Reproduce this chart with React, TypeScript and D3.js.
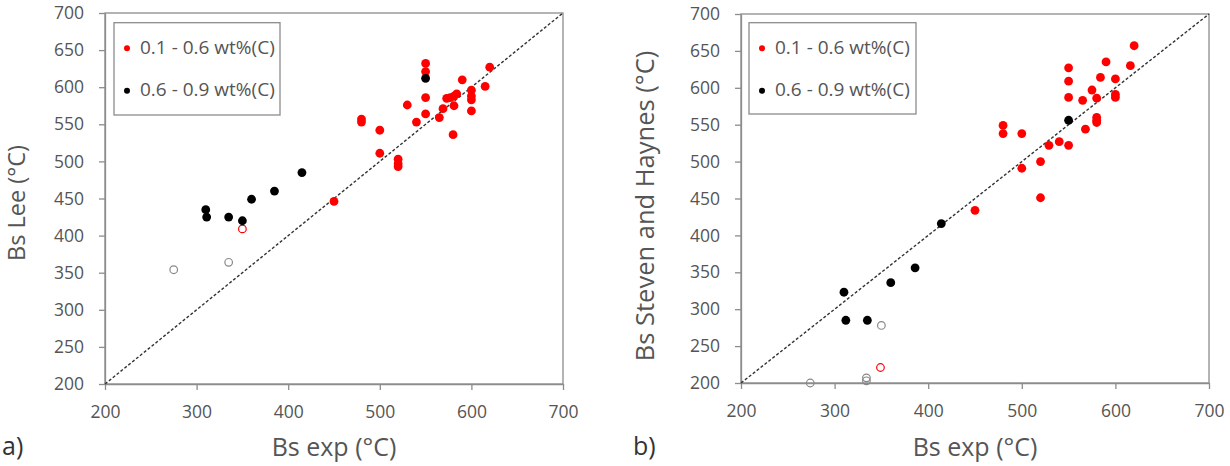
import React, { useEffect, useRef } from 'react'
import * as d3 from 'd3'

type Pt = [number, number]

// shared axis ticks (°C)
const xTickValues = [200, 300, 400, 500, 600, 700]
const yTickValues = [200, 250, 300, 350, 400, 450, 500, 550, 600, 650, 700]
const legendLabels = ['0.1 - 0.6 wt%(C)', '0.6 - 0.9 wt%(C)']

// a) Lee model vs experiment
const leeLowC: Pt[] = [
  [550, 632], [550, 621], [550, 586], [550, 564], [620, 627], [590, 610], [615, 601],
  [600, 596], [600, 588], [600, 583], [600, 568], [573, 585], [577, 586], [581, 588],
  [584, 591], [581, 575], [569, 571], [565, 559], [580, 536], [540, 553], [530, 576],
  [480, 557], [480, 553], [500, 542], [500, 511], [520, 503], [520, 497], [520, 493],
  [450, 446],
]
const leeHighC: Pt[] = [
  [550, 612], [310, 435], [311, 425], [335, 425], [350, 420], [360, 449], [385, 460], [415, 485],
]
const leeOpenLow: Pt[] = [[350, 409]]
const leeOpenHigh: Pt[] = [[275, 354], [335, 364]]

// b) Steven and Haynes model vs experiment
const shLowC: Pt[] = [
  [620, 657], [590, 635], [616, 630], [550, 627], [550, 609], [550, 587], [584, 614],
  [600, 612], [575, 597], [600, 591], [600, 587], [565, 583], [580, 586], [580, 560],
  [580, 556], [580, 553], [568, 544], [550, 522], [540, 527], [529, 522], [480, 549],
  [480, 538], [500, 538], [500, 491], [520, 500], [520, 451], [450, 434],
]
const shHighC: Pt[] = [
  [550, 556], [414, 416], [386, 356], [360, 336], [310, 323], [312, 285], [335, 285],
]
const shOpenLow: Pt[] = [[349, 221]]
const shOpenHigh: Pt[] = [[350, 278], [274, 200], [334, 207], [334, 203]]

const FONT = "'Open Sans', sans-serif"
const TEXT = '#555'
const AXIS = '#8c8c8c'
const RED = '#ff0000'

interface Panel {
  tag: string
  yTitle: string
  low: Pt[]
  high: Pt[]
  openLow: Pt[]
  openHigh: Pt[]
  box: { left: number; top: number; right: number; bottom: number }
  yTitleX: number
  yTitleY: number
  yTitleSize: number
  tagX: number
  legend: { x: number; y: number; w: number; h: number }
}

const panels: Panel[] = [
  {
    tag: 'a)', yTitle: 'Bs Lee (°C)',
    low: leeLowC, high: leeHighC, openLow: leeOpenLow, openHigh: leeOpenHigh,
    box: { left: 105, top: 13, right: 563, bottom: 384 },
    yTitleX: 25, yTitleY: 203, yTitleSize: 23.5, tagX: 2,
    legend: { x: 114, y: 22.7, w: 166, h: 92.3 },
  },
  {
    tag: 'b)', yTitle: 'Bs Steven and Haynes (°C)',
    low: shLowC, high: shHighC, openLow: shOpenLow, openHigh: shOpenHigh,
    box: { left: 741, top: 14, right: 1209, bottom: 383 },
    yTitleX: 654, yTitleY: 206, yTitleSize: 25.5, tagX: 633,
    legend: { x: 749, y: 22.7, w: 167, h: 91.3 },
  },
]

function drawPanel(svg: d3.Selection<SVGSVGElement, unknown, null, undefined>, p: Panel) {
  const { left, top, right, bottom } = p.box
  const x = d3.scaleLinear().domain([200, 700]).range([left, right])
  const y = d3.scaleLinear().domain([200, 700]).range([bottom, top])
  const g = svg.append('g')

  // plot area frame
  g.append('rect')
    .attr('x', left).attr('y', top)
    .attr('width', right - left).attr('height', bottom - top)
    .attr('fill', 'none').attr('stroke', AXIS).attr('stroke-width', 1.3)

  const yAxis = g.append('g')
    .attr('transform', `translate(${left},0)`)
    .call(d3.axisLeft(y).tickValues(yTickValues).tickSize(6).tickSizeOuter(0).tickPadding(15))
  const xAxis = g.append('g')
    .attr('transform', `translate(0,${bottom})`)
    .call(d3.axisBottom(x).tickValues(xTickValues).tickSize(6).tickSizeOuter(0).tickPadding(15.5))

  for (const ax of [xAxis, yAxis]) {
    ax.select('.domain').attr('stroke', AXIS).attr('stroke-width', 1.3)
    ax.selectAll('.tick line').attr('stroke', AXIS).attr('stroke-width', 1.3)
    ax.selectAll('.tick text')
      .attr('fill', TEXT).attr('font-family', FONT).attr('font-size', 17.5)
  }

  // 1:1 reference line
  g.append('line')
    .attr('x1', x(200)).attr('y1', y(200))
    .attr('x2', x(700)).attr('y2', y(700))
    .attr('stroke', '#333').attr('stroke-width', 1.4).attr('stroke-dasharray', '3,2')

  const dot = (data: Pt[], fill: string, stroke: string) =>
    g.append('g').selectAll('circle').data(data).enter().append('circle')
      .attr('cx', d => x(d[0])).attr('cy', d => y(d[1]))
      .attr('r', fill === 'none' ? 3.8 : 4.4)
      .attr('fill', fill).attr('stroke', stroke).attr('stroke-width', 1.2)

  dot(p.openHigh, 'none', '#888')
  dot(p.openLow, 'none', RED)
  dot(p.low, RED, 'none')
  dot(p.high, '#000', 'none')

  // legend
  const lg = g.append('g').attr('transform', `translate(${p.legend.x},${p.legend.y})`)
  lg.append('rect')
    .attr('width', p.legend.w).attr('height', p.legend.h)
    .attr('fill', '#fff').attr('stroke', '#8c8c8c').attr('stroke-width', 1.3)
  legendLabels.forEach((label, i) => {
    const cy = i === 0 ? 25.6 : 68
    lg.append('circle').attr('cx', 13).attr('cy', cy).attr('r', 3)
      .attr('fill', i === 0 ? RED : '#000')
    lg.append('text').attr('x', 26).attr('y', cy + 5.5)
      .attr('fill', TEXT).attr('font-family', FONT).attr('font-size', 19)
      .text(label)
  })

  // titles
  g.append('text')
    .attr('x', (left + right) / 2).attr('y', 456)
    .attr('text-anchor', 'middle')
    .attr('fill', TEXT).attr('font-family', FONT).attr('font-size', 25)
    .text('Bs exp (°C)')
  g.append('text')
    .attr('transform', `translate(${p.yTitleX},${p.yTitleY}) rotate(-90)`)
    .attr('text-anchor', 'middle')
    .attr('fill', TEXT).attr('font-family', FONT).attr('font-size', p.yTitleSize)
    .text(p.yTitle)
  g.append('text')
    .attr('x', p.tagX).attr('y', 455)
    .attr('fill', '#333').attr('font-family', FONT).attr('font-size', 25)
    .text(p.tag)
}

export default function App() {
  const ref = useRef<SVGSVGElement | null>(null)

  useEffect(() => {
    if (!ref.current) return
    const svg = d3.select(ref.current)
    svg.selectAll('*').remove()
    panels.forEach(p => drawPanel(svg, p))
  }, [])

  return (
    <svg
      ref={ref}
      width={1230}
      height={466}
      style={{ position: 'absolute', left: 0, top: 0, background: '#fff' }}
    />
  )
}
